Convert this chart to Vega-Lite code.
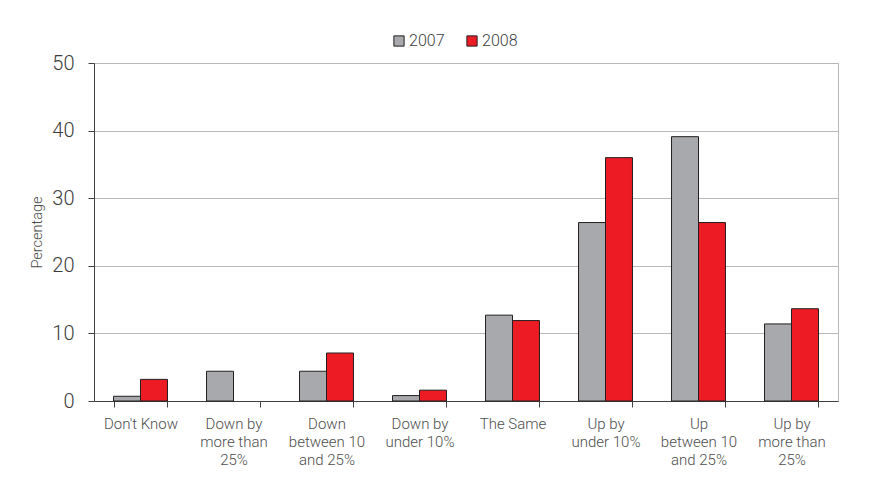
{
  "$schema": "https://vega.github.io/schema/vega-lite/v6.json",
  "autosize": "none",
  "width": 744,
  "height": 338,
  "padding": {"left": 94, "top": 63, "right": 34, "bottom": 76},
  "background": "white",
  "data": {
    "values": [
      {"category": "Don't Know", "year": "2007", "pct": 0.7},
      {"category": "Don't Know", "year": "2008", "pct": 3.2},
      {"category": "Down by\nmore than\n25%", "year": "2007", "pct": 4.4},
      {"category": "Down\nbetween 10\nand 25%", "year": "2007", "pct": 4.4},
      {"category": "Down\nbetween 10\nand 25%", "year": "2008", "pct": 7.1},
      {"category": "Down by\nunder 10%", "year": "2007", "pct": 0.8},
      {"category": "Down by\nunder 10%", "year": "2008", "pct": 1.6},
      {"category": "The Same", "year": "2007", "pct": 12.7},
      {"category": "The Same", "year": "2008", "pct": 11.9},
      {"category": "Up by\nunder 10%", "year": "2007", "pct": 26.4},
      {"category": "Up by\nunder 10%", "year": "2008", "pct": 36.0},
      {"category": "Up\nbetween 10\nand 25%", "year": "2007", "pct": 39.1},
      {"category": "Up\nbetween 10\nand 25%", "year": "2008", "pct": 26.4},
      {"category": "Up by\nmore than\n25%", "year": "2007", "pct": 11.4},
      {"category": "Up by\nmore than\n25%", "year": "2008", "pct": 13.65}
    ]
  },
  "mark": {"type": "bar", "stroke": "#231f20", "strokeWidth": 1},
  "encoding": {
    "x": {
      "field": "category",
      "type": "nominal",
      "sort": null,
      "scale": {"paddingInner": 0.42, "paddingOuter": 0.21},
      "axis": {
        "title": null,
        "labelAngle": 0,
        "labelExpr": "split(datum.label, '\\n')",
        "labelFont": "Roboto",
        "labelFontWeight": 300,
        "labelFontSize": 15,
        "labelColor": "#4d4d4d",
        "labelLineHeight": 18,
        "labelPadding": 9,
        "labelBaseline": "top",
        "tickBand": "extent",
        "tickSize": 6,
        "tickColor": "#404040",
        "domainColor": "#404040",
        "grid": false
      }
    },
    "xOffset": {"field": "year", "type": "nominal", "scale": {"domain": ["2007", "2008"], "paddingInner": 0, "paddingOuter": 0}},
    "y": {
      "field": "pct",
      "type": "quantitative",
      "scale": {"domain": [0, 50], "nice": false},
      "axis": {
        "title": "Percentage",
        "titleFont": "Roboto",
        "titleFontWeight": 300,
        "titleFontSize": 14.5,
        "titleColor": "#4d4d4d",
        "titlePadding": 7,
        "values": [0, 10, 20, 30, 40, 50],
        "labelFont": "Roboto",
        "labelFontWeight": 300,
        "labelFontSize": 20,
        "labelColor": "#3c3c3c",
        "labelPadding": 14,
        "tickSize": 6,
        "tickColor": "#404040",
        "domainColor": "#404040",
        "gridColor": "#b8b8b8",
        "gridWidth": 1
      }
    },
    "color": {
      "field": "year",
      "type": "nominal",
      "scale": {"domain": ["2007", "2008"], "range": ["#a7a9ac", "#ed1c24"]},
      "legend": {
        "title": null,
        "orient": "none",
        "direction": "horizontal",
        "legendX": 297,
        "legendY": -30,
        "symbolType": "square",
        "symbolSize": 105,
        "symbolStrokeColor": "#231f20",
        "symbolStrokeWidth": 1,
        "labelFont": "Roboto",
        "labelFontWeight": 300,
        "labelFontSize": 16,
        "labelColor": "#3c3c3c",
        "labelOffset": 2,
        "columnPadding": 19
      }
    }
  },
  "config": {
    "view": {"stroke": "#b8b8b8"}
  }
}
